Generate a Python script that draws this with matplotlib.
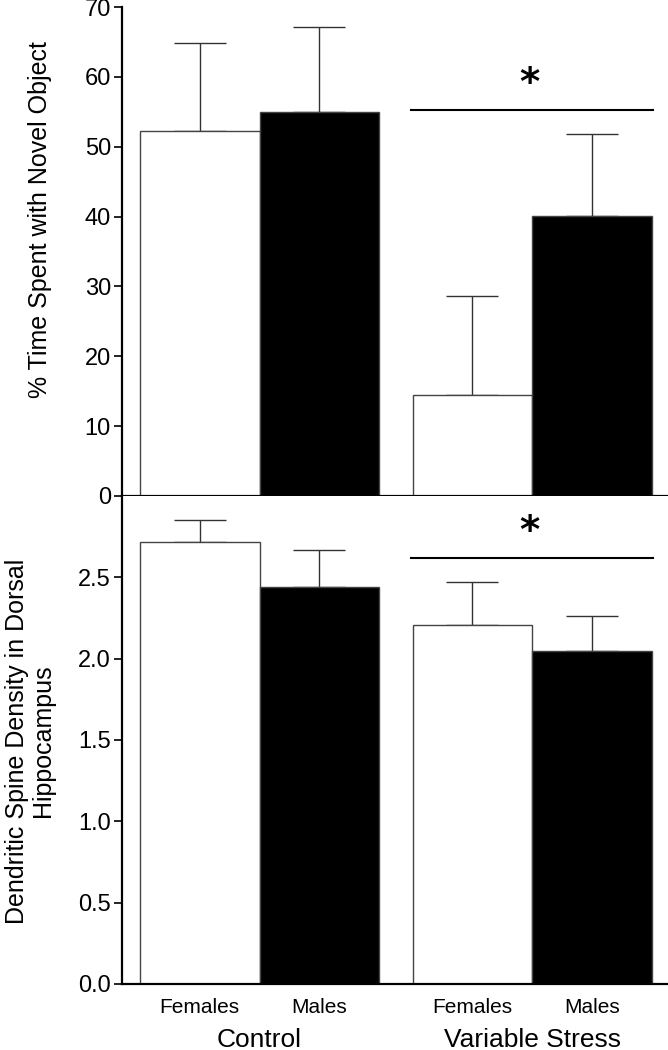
import numpy as np
import matplotlib
matplotlib.use("Agg")
import matplotlib.pyplot as plt

plt.rcParams['font.family'] = ['Liberation Sans', 'DejaVu Sans']

# data
groups = ["Control", "Variable Stress"]
sexes = ["Females", "Males", "Females", "Males"]
novel_mean = [52.3, 55.0, 14.4, 40.1]
novel_sem = [12.6, 12.2, 14.3, 11.7]
spine_mean = [2.72, 2.44, 2.21, 2.05]
spine_sem = [0.13, 0.23, 0.26, 0.21]
colors = ["white", "black", "white", "black"]

x = np.array([0, 1, 2.28, 3.28])

fig = plt.figure(figsize=(6.68, 10.5), dpi=100)
W, H = 668, 1050
left = 122 / W
ax1 = fig.add_axes([left, 1 - 496 / H, 1 - left, 489 / H])
ax2 = fig.add_axes([left, 1 - 984 / H, 1 - left, 488 / H])


def draw(ax, means, sems):
    ax.bar(x, means, width=1.0, color=colors, edgecolor="#444444",
           linewidth=1.0, zorder=2)
    ax.errorbar(x, means, yerr=[np.zeros(len(sems)), sems], fmt="none",
                ecolor="#333333", elinewidth=1.0, capsize=19, capthick=1.0,
                zorder=1)
    ax.set_xlim(-0.651, 3.918)
    for s in ["top", "right"]:
        ax.spines[s].set_visible(False)
    for s in ["left", "bottom"]:
        ax.spines[s].set_linewidth(1.6)
    ax.tick_params(axis="y", direction="out", length=6, width=1.2,
                   pad=2, labelsize=17)
    ax.tick_params(axis="x", length=0)


draw(ax1, novel_mean, novel_sem)
ax1.set_ylim(0, 70)
ax1.set_yticks(np.arange(0, 71, 10))
ax1.set_xticks([])
ax1.plot([1.767, 3.793], [55.3, 55.3], color="black", lw=1.5)
ax1.text(2.76, 56.2, "*", ha="center", va="bottom", fontsize=28,
         fontweight="bold", family="DejaVu Sans")

draw(ax2, spine_mean, spine_sem)
ax2.set_ylim(0, 3.0)
ax2.set_yticks([0, 0.5, 1.0, 1.5, 2.0, 2.5])
ax2.set_yticklabels(["0.0", "0.5", "1.0", "1.5", "2.0", "2.5"])
ax2.set_xticks(x)
ax2.set_xticklabels(sexes, fontsize=15)
ax2.tick_params(axis="x", pad=10)
ax2.plot([1.767, 3.793], [2.617, 2.617], color="black", lw=1.5)
ax2.text(2.76, 2.66, "*", ha="center", va="bottom", fontsize=28,
         fontweight="bold", family="DejaVu Sans")

for gx, g in zip([0.5, 2.78], groups):
    ax2.text(gx, -0.129, g, transform=ax2.get_xaxis_transform(),
             ha="center", va="baseline", fontsize=19)

fig.text(40 / W, 1 - 220 / H, "% Time Spent with Novel Object",
         rotation=90, ha="center", va="center", fontsize=18)
fig.text(30 / W, 1 - 741 / H, "Dendritic Spine Density in Dorsal\nHippocampus",
         rotation=90, ha="center", va="center", fontsize=18,
         multialignment="center", linespacing=1.1)

fig.savefig("out.png", dpi=100)
